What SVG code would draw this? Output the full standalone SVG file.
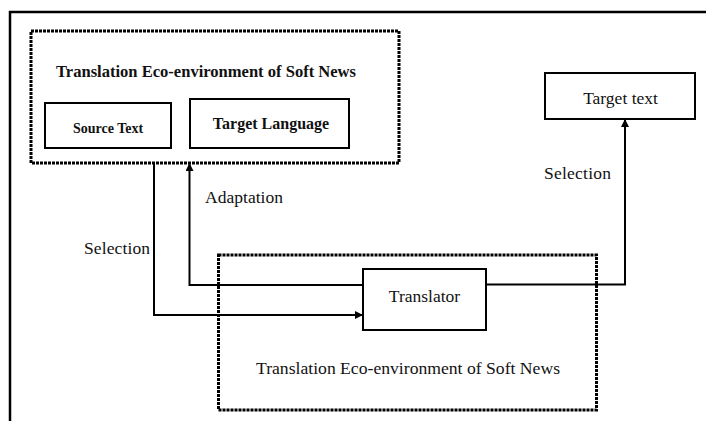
<svg xmlns="http://www.w3.org/2000/svg" width="706" height="421" viewBox="0 0 706 421">
  <style>
    .frame { fill: none; stroke: #000; stroke-width: 2.5; }
    .box { fill: #fff; stroke: #000; stroke-width: 2; }
    .dotted { fill: none; stroke: #000; stroke-width: 3; stroke-dasharray: 3 1; }
    .link { fill: none; stroke: #000; stroke-width: 2; }
    .t { font-family: "Liberation Serif", "Times New Roman", serif; fill: #111; }
    .reg { font-size: 17.5px; }
    .bold { font-weight: bold; }
  </style>
  <defs>
    <marker id="arrow" viewBox="0 0 10 10" refX="10" refY="5" markerWidth="9" markerHeight="8" markerUnits="userSpaceOnUse" orient="auto">
      <path d="M0,0 L10,5 L0,10 Z" fill="#000"/>
    </marker>
  </defs>

  <rect width="706" height="421" fill="#fff"/>
  <!-- outer frame (open to the right and bottom) -->
  <path class="frame" d="M10,425 V12 H710"/>

  <!-- upper environment group -->
  <g id="eco-upper">
    <rect class="dotted" x="31" y="31" width="368" height="132"/>
    <text class="t bold" x="56" y="77" font-size="16" textLength="300" lengthAdjust="spacingAndGlyphs">Translation Eco-environment of Soft News</text>
  </g>
  <g id="source-text">
    <rect class="box" x="45" y="103" width="126" height="45"/>
    <text class="t bold" x="108" y="133" font-size="14" text-anchor="middle">Source Text</text>
  </g>
  <g id="target-language">
    <rect class="box" x="190" y="99" width="159" height="49"/>
    <text class="t bold" x="271" y="129" font-size="16" text-anchor="middle">Target Language</text>
  </g>

  <!-- lower environment group -->
  <g id="eco-lower">
    <rect class="dotted" x="218.5" y="255" width="378" height="155"/>
    <text class="t reg" x="256" y="374" textLength="304" lengthAdjust="spacingAndGlyphs">Translation Eco-environment of Soft News</text>
  </g>
  <g id="translator">
    <rect class="box" x="363" y="269" width="123" height="61"/>
    <text class="t reg" x="424.5" y="302" text-anchor="middle">Translator</text>
  </g>
  <g id="target-text">
    <rect class="box" x="545" y="73" width="150" height="46"/>
    <text class="t reg" x="620.5" y="104" text-anchor="middle">Target text</text>
  </g>

  <!-- connectors -->
  <g id="connectors">
    <path class="link" d="M154,163 V315 H363" marker-end="url(#arrow)"/>
    <path class="link" d="M363,285 H189.5 V163" marker-end="url(#arrow)"/>
    <path class="link" d="M486,284.5 H625 V119" marker-end="url(#arrow)"/>
  </g>

  <!-- connector labels -->
  <g id="labels">
    <text class="t reg" x="84" y="254" textLength="66" lengthAdjust="spacing">Selection</text>
    <text class="t reg" x="205" y="203" textLength="78" lengthAdjust="spacing">Adaptation</text>
    <text class="t reg" x="544" y="179" textLength="67" lengthAdjust="spacing">Selection</text>
  </g>
</svg>
